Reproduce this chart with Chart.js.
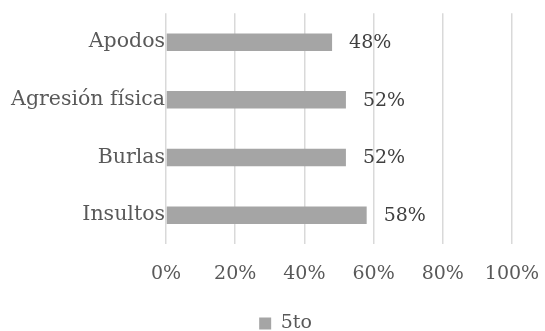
<!DOCTYPE html>
<html>
<head>
<meta charset="utf-8">
<script src="https://cdn.jsdelivr.net/npm/chart.js@4/dist/chart.umd.min.js"></script>
<style>
  html, body { margin: 0; padding: 0; background: #fff; }
  #wrap { width: 545px; height: 331px; }
</style>
</head>
<body>
<div id="wrap"><canvas id="barChart"></canvas></div>
<script>
// Chart data
const categories = ['Apodos', 'Agresión física', 'Burlas', 'Insultos'];
const seriesName = '5to';
const seriesValues = [0.48, 0.52, 0.52, 0.58];
const xTicks = [0, 0.2, 0.4, 0.6, 0.8, 1];

const fontFamily = '"DejaVu Serif", serif';

// Draw the percentage labels to the right of each bar
const valueLabels = {
  id: 'valueLabels',
  afterDatasetsDraw(chart) {
    const ctx = chart.ctx;
    const meta = chart.getDatasetMeta(0);
    ctx.save();
    ctx.font = '19px ' + fontFamily;
    ctx.fillStyle = '#404040';
    ctx.textAlign = 'left';
    ctx.textBaseline = 'middle';
    meta.data.forEach((bar, i) => {
      const v = chart.data.datasets[0].data[i];
      ctx.fillText(Math.round(v * 100) + '%', bar.x + 17, bar.y + 1);
    });
    ctx.restore();
  }
};

const ctx = document.getElementById('barChart').getContext('2d');
const myChart = new Chart(ctx, {
  type: 'bar',
  data: {
    labels: categories,
    datasets: [{
      label: seriesName,
      data: seriesValues,
      backgroundColor: '#a5a5a5',
      barPercentage: 0.6,
      categoryPercentage: 0.505
    }]
  },
  options: {
    indexAxis: 'y',
    responsive: true,
    maintainAspectRatio: false,
    animation: false,
    layout: { padding: { top: 12, left: 4, right: -22, bottom: -12 } },
    scales: {
      x: {
        min: 0,
        max: 1,
        afterBuildTicks: scale => { scale.ticks = xTicks.map(v => ({ value: v })); },
        afterFit: scale => { scale.height = 69; scale.paddingRight = 33; },
        border: { display: false },
        grid: { color: '#d9d9d9', lineWidth: 1.5, drawTicks: true, tickLength: 19, tickColor: 'rgba(0,0,0,0)' },
        ticks: {
          padding: 0,
          color: '#595959',
          font: { family: fontFamily, size: 19 },
          callback: v => Math.round(v * 100) + '%'
        }
      },
      y: {
        border: { display: false },
        grid: { display: false, drawTicks: false },
        afterFit: scale => { scale.width = 162; },
        ticks: {
          padding: 1,
          color: '#595959',
          font: { family: fontFamily, size: 20.5 }
        }
      }
    },
    plugins: {
      tooltip: { enabled: false },
      legend: {
        position: 'bottom',
        labels: {
          boxWidth: 12,
          boxHeight: 12,
          padding: 1,
          color: '#595959',
          font: { family: fontFamily, size: 19 }
        }
      }
    }
  },
  plugins: [valueLabels]
});
</script>
</body>
</html>
